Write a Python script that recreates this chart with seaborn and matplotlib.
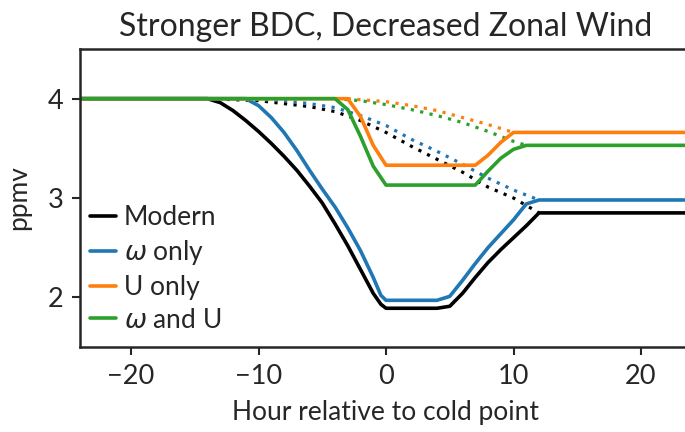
import matplotlib
matplotlib.use("Agg")
import matplotlib.pyplot as plt
import seaborn as sns

# hours relative to cold point / water vapour (ppmv)
modern_h = [-24, -14, -13, -12, -11, -10, -9, -8, -7, -6, -5, -4, -3, -2, -1, -0.4, 0, 4, 5, 6, 7, 8, 9, 10, 11, 12, 24]
modern_v = [4.0, 4.0, 3.96, 3.88, 3.78, 3.67, 3.55, 3.42, 3.28, 3.12, 2.95, 2.74, 2.52, 2.28, 2.04, 1.93, 1.89, 1.89, 1.91, 2.04, 2.20, 2.35, 2.48, 2.60, 2.72, 2.85, 2.85]

omega_h = [-24, -11, -10, -9, -8, -7, -6, -5, -4, -3, -2, -1, -0.4, 0, 4, 5, 6, 7, 8, 9, 10, 11, 12, 24]
omega_v = [4.0, 4.0, 3.93, 3.81, 3.66, 3.48, 3.28, 3.09, 2.91, 2.70, 2.47, 2.20, 2.02, 1.97, 1.97, 2.01, 2.17, 2.34, 2.50, 2.64, 2.78, 2.94, 2.98, 2.98]

u_h = [-24, -3, -2, -1, 0, 7, 8, 9, 10, 24]
u_v = [4.0, 4.0, 3.82, 3.53, 3.33, 3.33, 3.43, 3.56, 3.66, 3.66]

both_h = [-24, -4, -3, -2, -1, 0, 7, 8, 9, 10, 11, 24]
both_v = [4.0, 4.0, 3.89, 3.62, 3.32, 3.13, 3.13, 3.27, 3.40, 3.49, 3.53, 3.53]

# dotted curves
modern_dot_h = [-14, -12, -10, -8, -6, -4, -2, 0, 2, 4, 6, 8, 10, 12]
modern_dot_v = [4.0, 3.99, 3.98, 3.95, 3.92, 3.87, 3.78, 3.66, 3.52, 3.39, 3.26, 3.11, 3.00, 2.85]

omega_dot_h = [-11, -8, -6, -4, -2, 0, 2, 4, 6, 8, 10, 12]
omega_dot_v = [4.0, 3.98, 3.95, 3.91, 3.83, 3.73, 3.59, 3.47, 3.34, 3.20, 3.08, 2.98]

u_dot_h = [-3, 0, 2, 4, 6, 8, 10]
u_dot_v = [4.0, 3.97, 3.93, 3.88, 3.81, 3.74, 3.66]

both_dot_h = [-4, -2, 0, 2, 4, 6, 8, 10, 11]
both_dot_v = [4.0, 3.98, 3.94, 3.89, 3.83, 3.76, 3.67, 3.57, 3.53]

labels = ["Modern", r"$\omega$ only", "U only", r"$\omega$ and U"]
colors = ["black", "#1f77b4", "#ff7f0e", "#2ca02c"]

sns.set_style("ticks")
plt.rcParams["font.family"] = ["Lato", "DejaVu Sans"]
plt.rcParams["mathtext.fontset"] = "dejavusans"

fig = plt.figure(figsize=(6.85, 4.32), dpi=100)
ax = fig.add_axes([80 / 685, 85 / 432, 612 / 685, 298 / 432])

dotted = [(modern_dot_h, modern_dot_v), (omega_dot_h, omega_dot_v),
          (u_dot_h, u_dot_v), (both_dot_h, both_dot_v)]
solid = [(modern_h, modern_v), (omega_h, omega_v), (u_h, u_v), (both_h, both_v)]

for (x, y), c in zip(dotted, colors):
    sns.lineplot(x=x, y=y, ax=ax, color=c, lw=2.3, ls=(0, (1, 2.0)), sort=False)
for (x, y), c, lab in zip(solid, colors, labels):
    sns.lineplot(x=x, y=y, ax=ax, color=c, lw=2.6, label=lab, sort=False)

ax.set_xlim(-24, 24)
ax.set_ylim(1.5, 4.5)
ax.set_xticks([-20, -10, 0, 10, 20])
ax.set_yticks([2, 3, 4])
ax.tick_params(labelsize=19.5, width=1.5, length=6, pad=6)
for s in ax.spines.values():
    s.set_linewidth(1.8)

ax.set_xlabel("Hour relative to cold point", fontsize=19, labelpad=8)
ax.set_ylabel("ppmv", fontsize=19, labelpad=12)
ax.set_title("Stronger BDC, Decreased Zonal Wind", fontsize=23, pad=9)

ax.legend(loc="lower left", frameon=False, fontsize=19, handlelength=1.0,
          handletextpad=0.3, labelspacing=0.3, borderaxespad=0.2,
          bbox_to_anchor=(-0.01, -0.005))

fig.savefig("out.png", dpi=100)
